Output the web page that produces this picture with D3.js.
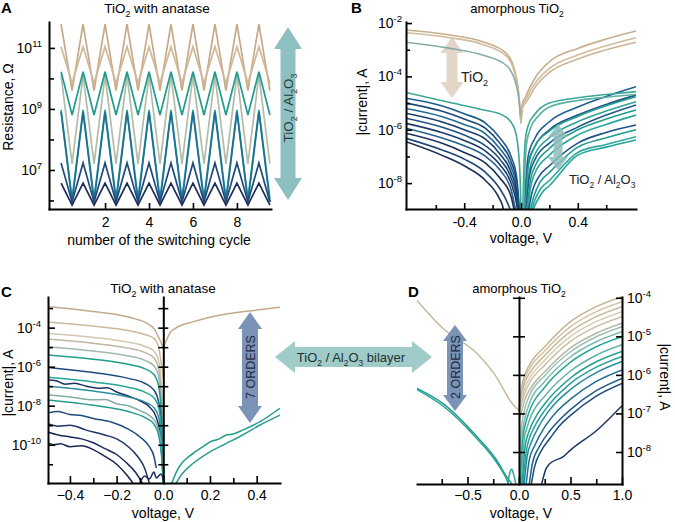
<!DOCTYPE html>
<html><head><meta charset="utf-8">
<script src="https://cdn.jsdelivr.net/npm/d3@7"></script>
<style>
body{margin:0;background:#fff;}
svg{display:block;}
</style></head><body>
<svg id="fig" width="675" height="522"></svg>
<script>
// ================= DATA =================
// Panel A: log10(resistance / Ohm) vs switching cycle
const cycleX = [0,0.5,1,1.5,2,2.5,3,3.5,4,4.5,5,5.5,6,6.5,7,7.5,8,8.5,9,9.5];
const logR_tan1  = [11.78,9.60,11.78,9.60,11.78,9.60,11.78,9.60,11.78,9.60,11.78,9.60,11.78,9.60,11.78,9.60,11.78,9.60,11.78,9.60];
const logR_tan2  = [11.04,9.85,11.04,9.85,11.04,9.85,11.04,9.85,11.04,9.85,11.04,9.85,11.04,9.85,11.04,9.85,11.04,9.85,11.04,9.85];
const logR_teal1 = [10.22,8.80,10.22,8.80,10.22,8.80,10.22,8.80,10.22,8.80,10.22,8.80,10.22,8.80,10.22,8.80,10.22,8.80,10.22,8.80];
const logR_grey  = [10.10,7.20,10.10,7.20,10.10,7.20,10.10,7.20,10.10,7.20,10.10,7.20,10.10,7.20,10.10,7.20,10.10,7.20,10.10,7.20];
const logR_teal2 = [8.97,6.05,8.97,6.05,8.97,6.05,8.97,6.05,8.97,6.05,8.97,6.05,8.97,6.05,8.97,6.05,8.97,6.05,8.97,6.05];
const logR_blue1 = [8.90,5.95,8.90,5.95,8.90,5.95,8.90,5.95,8.90,5.95,8.90,5.95,8.90,5.95,8.90,5.95,8.90,5.95,8.90,5.95];
const logR_blue2 = [7.23,5.95,7.23,5.95,7.23,5.95,7.23,5.95,7.23,5.95,7.23,5.95,7.23,5.95,7.23,5.95,7.23,5.95,7.23,5.95];
const logR_navy  = [6.57,5.85,6.57,5.85,6.57,5.85,6.57,5.85,6.57,5.85,6.57,5.85,6.57,5.85,6.57,5.85,6.57,5.85,6.57,5.85];
const seriesA = [logR_grey, logR_tan1, logR_tan2, logR_teal1, logR_teal2, logR_blue1, logR_blue2, logR_navy];
const colorsA = ["#b3bca9","#c6aa88","#cfb999","#1f9c8b","#2ba39b","#1e6f95","#1f4a7b","#1b2c58"];
const yMajorA = [7,9,11], yMinorA = [6,8,10], xTicksA = [2,4,6,8];

// Panel B: [voltage V, log10 |current| A]
const ivB_tan = [
 [[-0.81,-2.26],[-0.5,-2.45],[-0.27,-2.7],[-0.1,-3.15],[-0.03,-4.1],[-0.01,-5.0],[0,-5.75]],
 [[-0.81,-2.36],[-0.5,-2.55],[-0.27,-2.8],[-0.1,-3.25],[-0.03,-4.2],[-0.01,-5.05],[0,-5.75]],
 [[0,-5.75],[0.01,-5.0],[0.03,-4.8],[0.05,-4.55],[0.1,-4.05],[0.2,-3.45],[0.4,-2.95],[0.6,-2.6],[0.81,-2.3]],
 [[0,-5.75],[0.01,-5.1],[0.03,-4.9],[0.05,-4.7],[0.1,-4.25],[0.2,-3.7],[0.4,-3.2],[0.6,-2.85],[0.81,-2.55]],
 [[0,-5.75],[0.01,-5.2],[0.03,-5.0],[0.05,-4.85],[0.1,-4.4],[0.2,-3.85],[0.4,-3.35],[0.6,-3.0],[0.81,-2.72]]
];
const ivB_greyTeal = [[-0.81,-2.72],[-0.5,-2.95],[-0.27,-3.2],[-0.1,-3.6],[-0.03,-4.4],[-0.01,-5.1],[0,-5.75]];
const ivB_tealTop = [
 [[-0.81,-4.6],[-0.5,-4.98],[-0.27,-5.25],[-0.13,-5.45],[-0.05,-5.9],[-0.02,-6.7],[-0.005,-8.0],[0,-9.1]],
 [[0.012,-9.1],[0.02,-7.5],[0.03,-6.4],[0.05,-5.85],[0.1,-5.4],[0.2,-5.0],[0.4,-4.8],[0.6,-4.68],[0.81,-4.57]],
 [[0.018,-9.1],[0.028,-7.4],[0.04,-6.5],[0.07,-5.9],[0.12,-5.5],[0.2,-5.15],[0.4,-4.9],[0.6,-4.78],[0.81,-4.68]]
];
const ivB_leftBlue = [
 [[-0.81,-4.82],[-0.56,-5.1],[-0.4,-5.4],[-0.25,-5.75],[-0.15,-6.3],[-0.07,-7.0],[-0.03,-7.8],[-0.01,-9.1]],
 [[-0.81,-5.0],[-0.56,-5.3],[-0.4,-5.6],[-0.25,-5.95],[-0.15,-6.5],[-0.07,-7.2],[-0.03,-8.0],[-0.012,-9.1]],
 [[-0.81,-5.2],[-0.56,-5.5],[-0.4,-5.8],[-0.25,-6.15],[-0.15,-6.7],[-0.07,-7.4],[-0.03,-8.2],[-0.014,-9.1]],
 [[-0.81,-5.38],[-0.56,-5.7],[-0.4,-6.0],[-0.25,-6.35],[-0.15,-6.9],[-0.07,-7.6],[-0.03,-8.4],[-0.016,-9.1]],
 [[-0.81,-5.57],[-0.56,-5.9],[-0.4,-6.2],[-0.25,-6.6],[-0.15,-7.1],[-0.07,-7.8],[-0.03,-8.6],[-0.02,-9.1]],
 [[-0.81,-5.76],[-0.56,-6.1],[-0.4,-6.4],[-0.25,-6.8],[-0.15,-7.3],[-0.07,-8.0],[-0.03,-8.8],[-0.022,-9.1]],
 [[-0.81,-5.94],[-0.56,-6.3],[-0.4,-6.6],[-0.25,-7.0],[-0.15,-7.5],[-0.07,-8.25],[-0.035,-9.1]],
 [[-0.81,-6.13],[-0.56,-6.5],[-0.4,-6.85],[-0.25,-7.25],[-0.15,-7.8],[-0.07,-8.5],[-0.045,-9.1]],
 [[-0.81,-6.32],[-0.56,-6.75],[-0.4,-7.1],[-0.25,-7.6],[-0.15,-8.2],[-0.09,-8.8],[-0.07,-9.1]],
 [[-0.81,-6.45],[-0.56,-6.95],[-0.4,-7.35],[-0.25,-7.9],[-0.15,-8.6],[-0.13,-8.85],[-0.12,-9.1]]
];
const colorsB_leftBlue = ["#1d5c8c","#1b4675","#1e6a93","#1b3d6c","#204f82","#1c3a68","#22618f","#1b2f5c","#1d4678","#1a2d57"];
const ivB_right = [
 [[0.02,-9.1],[0.05,-7.0],[0.1,-6.3],[0.2,-5.7],[0.4,-5.15],[0.6,-4.75],[0.81,-4.39]],
 [[0.025,-9.1],[0.05,-7.3],[0.1,-6.6],[0.2,-6.0],[0.4,-5.45],[0.6,-5.05],[0.81,-4.70]],
 [[0.03,-9.1],[0.05,-7.4],[0.1,-6.6],[0.2,-6.05],[0.4,-5.5],[0.6,-5.1],[0.81,-4.76]],
 [[0.03,-9.1],[0.06,-7.5],[0.1,-6.9],[0.2,-6.3],[0.4,-5.7],[0.6,-5.3],[0.81,-4.95]],
 [[0.035,-9.1],[0.06,-7.7],[0.1,-7.1],[0.2,-6.5],[0.4,-5.9],[0.6,-5.45],[0.81,-5.07]],
 [[0.04,-9.1],[0.07,-7.8],[0.1,-7.35],[0.2,-6.7],[0.4,-6.0],[0.6,-5.6],[0.81,-5.26]],
 [[0.045,-9.1],[0.07,-8.1],[0.1,-7.6],[0.2,-6.95],[0.4,-6.2],[0.6,-5.8],[0.81,-5.45]],
 [[0.05,-9.1],[0.08,-8.3],[0.12,-7.8],[0.2,-7.35],[0.4,-6.5],[0.6,-6.1],[0.81,-5.82]],
 [[0.06,-9.1],[0.09,-8.5],[0.13,-8.0],[0.2,-7.6],[0.4,-6.65],[0.6,-6.3],[0.81,-6.0]],
 [[0.07,-9.1],[0.1,-8.6],[0.14,-8.2],[0.2,-7.9],[0.4,-6.85],[0.6,-6.55],[0.81,-6.26]],
 [[0.075,-9.1],[0.11,-8.7],[0.15,-8.35],[0.2,-8.1],[0.4,-6.95],[0.6,-6.65],[0.81,-6.38]]
];
const colorsB_right = ["#1d5f90","#1b4f80","#25a190","#2ba59b","#1e5a8a","#1f9c8c","#2aa79d","#1d5488","#219c8d","#2fa89c","#26a597"];
const yMajorB = [-2,-4,-6,-8], yMinorB = [-3,-5,-7], xMajorB = [-0.4,0,0.4], xMinorB = [-0.6,-0.2,0.2,0.6];

// Panel C: [voltage V, log10 |current| A]
const ivC_left = [
 [[-0.5,-2.92],[-0.4,-3.03],[-0.3,-3.17],[-0.2,-3.33],[-0.12,-3.55],[-0.06,-3.85],[-0.04,-4.05],[-0.02,-4.5],[0,-5.0]],
 [[-0.5,-3.7],[-0.3,-3.92],[-0.15,-4.15],[-0.08,-4.35],[-0.04,-4.55],[-0.02,-5.0],[-0.008,-5.9],[0,-6.6]],
 [[-0.5,-4.29],[-0.3,-4.5],[-0.15,-4.75],[-0.08,-4.95],[-0.04,-5.2],[-0.02,-5.7],[-0.008,-7.0],[-0.002,-9],[0,-11.96]],
 [[-0.5,-4.58],[-0.3,-4.8],[-0.15,-5.05],[-0.08,-5.27],[-0.04,-5.55],[-0.02,-6.1],[-0.008,-7.5],[0,-11.96]],
 [[-0.5,-4.97],[-0.3,-5.2],[-0.15,-5.45],[-0.08,-5.67],[-0.04,-5.95],[-0.02,-6.5],[-0.008,-8.0],[0,-11.96]],
 [[-0.5,-5.4],[-0.3,-5.62],[-0.15,-5.88],[-0.08,-6.1],[-0.04,-6.4],[-0.02,-7.0],[-0.008,-8.5],[0,-11.96]],
 [[-0.5,-6.03],[-0.3,-6.3],[-0.15,-6.6],[-0.08,-6.85],[-0.04,-7.2],[-0.02,-7.8],[-0.008,-9.0],[0,-11.96]],
 [[-0.5,-6.54],[-0.3,-6.78],[-0.15,-7.05],[-0.08,-7.3],[-0.04,-7.6],[-0.02,-8.1],[-0.008,-9.3],[0,-11.96]],
 [[-0.5,-6.68],[-0.46,-6.72],[-0.42,-6.9],[-0.38,-6.85],[-0.33,-7.0],[-0.28,-7.1],[-0.24,-7.08],[-0.2,-7.3],[-0.15,-7.5],[-0.1,-7.75],[-0.06,-8.05],[-0.03,-8.6],[-0.012,-9.6],[0,-11.96]],
 [[-0.5,-7.0],[-0.3,-7.25],[-0.15,-7.55],[-0.08,-7.8],[-0.04,-8.1],[-0.02,-8.6],[-0.008,-9.7],[0,-11.96]],
 [[-0.5,-7.45],[-0.4,-7.55],[-0.3,-7.7],[-0.25,-7.68],[-0.2,-7.9],[-0.15,-8.0],[-0.1,-8.25],[-0.06,-8.5],[-0.03,-8.9],[-0.012,-9.8],[0,-11.96]],
 [[-0.5,-7.7],[-0.3,-7.98],[-0.15,-8.3],[-0.08,-8.6],[-0.04,-8.95],[-0.02,-9.5],[-0.008,-10.5],[0,-11.96]],
 [[-0.5,-8.39],[-0.45,-8.3],[-0.4,-8.45],[-0.35,-8.5],[-0.3,-8.65],[-0.22,-8.85],[-0.15,-9.2],[-0.1,-9.6],[-0.06,-10.1],[-0.04,-10.6],[-0.03,-11.2]],
 [[-0.5,-8.9],[-0.45,-9.05],[-0.4,-9.0],[-0.33,-9.25],[-0.25,-9.5],[-0.2,-9.7],[-0.15,-10.1],[-0.11,-10.6],[-0.08,-11.2],[-0.06,-11.96]],
 [[-0.5,-9.33],[-0.45,-9.5],[-0.4,-9.6],[-0.35,-9.7],[-0.3,-9.9],[-0.25,-10.2],[-0.2,-10.5],[-0.16,-10.9],[-0.12,-11.4],[-0.09,-11.96]],
 [[-0.5,-9.85],[-0.47,-10.0],[-0.44,-9.95],[-0.4,-10.1],[-0.35,-10.05],[-0.3,-10.25],[-0.25,-10.6],[-0.2,-11.0],[-0.16,-11.5],[-0.13,-11.96]],
 [[-0.1,-11.96],[-0.08,-11.6],[-0.06,-11.75],[-0.04,-11.4],[-0.03,-11.7],[-0.01,-11.5],[0,-11.8]]
];
const colorsC_left = ["#c4aa8a","#cdb99c","#d5c7af","#bdb6a2","#9dbab0","#1f9d8b","#1d4c7e","#28a597","#1c2f5e","#2a8f9e","#86aca4","#239d90","#1f4a7c","#1b3566","#1b2a58","#1a2550","#1c2f5e"];
const ivC_right = [
 [[0,-5.0],[0.015,-4.6],[0.03,-4.25],[0.05,-4.05],[0.13,-3.69],[0.27,-3.3],[0.4,-3.1],[0.5,-2.95]],
 [[0.036,-11.96],[0.06,-11.3],[0.128,-10.44],[0.17,-10.1],[0.2,-9.85],[0.24,-9.7],[0.27,-9.5],[0.3,-9.45],[0.34,-9.25],[0.414,-8.82],[0.5,-8.13]],
 [[0.055,-11.96],[0.08,-11.5],[0.128,-10.95],[0.2,-10.36],[0.27,-9.93],[0.34,-9.5],[0.414,-8.99],[0.5,-8.48]]
];
const colorsC_right = ["#c4aa8a","#1f9c8a","#2a9d8f"];
const yMajorC = [-4,-6,-8,-10], yMinorC = [-3,-5,-7,-9,-11], yAllC = [-3,-4,-5,-6,-7,-8,-9,-10,-11];
const xMajorC = [-0.4,-0.2,0,0.2,0.4], xMinorC = [-0.3,-0.1,0.1,0.3];

// Panel D: [voltage V, log10 |current| A]
const ivD_left = [
 [[-0.99,-4.07],[-0.74,-4.79],[-0.41,-5.44],[-0.22,-6.05],[-0.09,-6.65],[-0.03,-6.85],[0,-6.92]],
 [[-0.99,-6.35],[-0.74,-6.74],[-0.41,-7.6],[-0.22,-8.2],[-0.12,-8.64],[-0.07,-8.83]],
 [[-0.99,-6.38],[-0.74,-6.8],[-0.41,-7.65],[-0.22,-8.26],[-0.14,-8.6],[-0.1,-8.83]],
 [[-0.11,-8.83],[-0.09,-8.55],[-0.07,-8.45],[-0.05,-8.6],[-0.03,-8.83]]
];
const colorsD_left = ["#cbb99d","#1f9c8b","#2aa596","#2aa596"];
const ivD_right = [
 [[0,-6.92],[0.02,-6.4],[0.05,-6.05],[0.1,-5.75],[0.25,-5.27],[0.5,-4.62],[0.75,-4.23],[1.0,-3.97]],
 [[0,-6.92],[0.02,-6.5],[0.05,-6.15],[0.1,-5.85],[0.25,-5.38],[0.5,-4.75],[0.75,-4.36],[1.0,-4.10]],
 [[0,-6.92],[0.02,-6.6],[0.05,-6.25],[0.1,-5.97],[0.25,-5.5],[0.5,-4.88],[0.75,-4.49],[1.0,-4.23]],
 [[0,-6.92],[0.03,-6.6],[0.05,-6.38],[0.1,-6.1],[0.25,-5.62],[0.5,-5.0],[0.75,-4.62],[1.0,-4.36]],
 [[0,-6.95],[0.03,-6.7],[0.06,-6.45],[0.1,-6.22],[0.25,-5.75],[0.5,-5.13],[0.75,-4.75],[1.0,-4.49]],
 [[0,-7.2],[0.03,-6.9],[0.06,-6.62],[0.1,-6.4],[0.25,-5.92],[0.5,-5.3],[0.75,-4.92],[1.0,-4.66]],
 [[0.005,-8.83],[0.02,-7.5],[0.05,-6.95],[0.1,-6.55],[0.25,-6.02],[0.5,-5.4],[0.75,-5.01],[1.0,-4.75]],
 [[0.01,-8.83],[0.03,-7.6],[0.06,-7.1],[0.1,-6.75],[0.25,-6.17],[0.5,-5.53],[0.75,-5.14],[1.0,-4.88]],
 [[0.015,-8.83],[0.04,-7.6],[0.07,-7.2],[0.1,-6.95],[0.25,-6.32],[0.5,-5.67],[0.75,-5.27],[1.0,-5.01]],
 [[0.02,-8.83],[0.05,-7.7],[0.08,-7.35],[0.12,-7.05],[0.25,-6.55],[0.5,-5.9],[0.75,-5.49],[1.0,-5.22]],
 [[0.03,-8.83],[0.06,-7.85],[0.1,-7.45],[0.15,-7.15],[0.25,-6.75],[0.5,-6.08],[0.75,-5.66],[1.0,-5.39]],
 [[0.04,-8.83],[0.07,-8.0],[0.1,-7.65],[0.15,-7.35],[0.25,-6.92],[0.5,-6.22],[0.75,-5.8],[1.0,-5.52]],
 [[0.05,-8.83],[0.08,-8.1],[0.12,-7.75],[0.2,-7.3],[0.3,-6.9],[0.5,-6.38],[0.75,-5.94],[1.0,-5.65]],
 [[0.07,-8.83],[0.1,-8.2],[0.15,-7.85],[0.25,-7.35],[0.35,-7.0],[0.5,-6.63],[0.75,-6.17],[1.0,-5.87]],
 [[0.1,-8.83],[0.13,-8.3],[0.2,-7.85],[0.3,-7.45],[0.4,-7.15],[0.5,-6.9],[0.75,-6.41],[1.0,-6.09]],
 [[0.12,-8.83],[0.15,-8.4],[0.22,-7.95],[0.3,-7.65],[0.4,-7.3],[0.5,-7.05],[0.75,-6.55],[1.0,-6.22]],
 [[0.22,-8.83],[0.26,-8.45],[0.3,-8.3],[0.43,-8.12],[0.5,-7.95],[0.76,-7.43],[1.0,-6.8]]
];
const colorsD_right = ["#c8b190","#d3c2a6","#c9b898","#d8cbb4","#cbbfa6","#b4b8a5","#9cc0b6","#7dbab0","#2aa69a","#5db3a8","#1f9e8c","#2b9fa0","#1f8a9a","#1e6f93","#1d5a8a","#1d4a7c","#1b3563"];
const yDecD = [-4,-5,-6,-7,-8], xMajorD = [-0.5,0,0.5,1.0], xMinorD = [-0.75,-0.25,0.25,0.75];

// ================= DRAWING =================
const FF = '"Liberation Sans", Arial, Helvetica, sans-serif';
const svg = d3.select("#fig").attr("font-family", FF);
const defs = svg.append("defs");

function rich(t, s, fs) {
  const parts = s.split(/_(\d)/);
  let down = false;
  parts.forEach((p, i) => {
    if (!p) return;
    const ts = t.append("tspan").text(p);
    if (i % 2 === 1) { ts.attr("font-size", fs * 0.65).attr("dy", fs * 0.28); down = true; }
    else if (down) { ts.attr("dy", -fs * 0.28); down = false; }
  });
  return t;
}
function label(x, y, s, fs, o = {}) {
  const t = svg.append("text").attr("font-size", fs)
    .attr("text-anchor", o.anchor || "start").attr("fill", o.fill || "#000");
  if (o.weight) t.attr("font-weight", o.weight);
  if (o.rotate != null) t.attr("transform", `translate(${x},${y}) rotate(${o.rotate})`);
  else t.attr("x", x).attr("y", y);
  return rich(t, s, fs);
}
function clipRect(id, x0, y0, x1, y1) {
  defs.append("clipPath").attr("id", id).append("rect")
    .attr("x", x0).attr("y", y0).attr("width", x1 - x0).attr("height", y1 - y0);
}
function styleAxis(g, fs) {
  g.attr("font-family", FF).attr("font-size", fs);
  g.select(".domain").attr("stroke-width", 2).attr("stroke-linecap", "square");
  g.selectAll(".tick line").attr("stroke-width", 1.6);
  return g;
}
function noDomain(g) { g.select(".domain").remove(); g.selectAll(".tick line").attr("stroke-width", 1.6); return g; }
function powText(g) {
  g.selectAll(".tick text").each(function (d) {
    const t = d3.select(this); t.text(null);
    t.append("tspan").text("10");
    t.append("tspan").attr("dy", -6).attr("font-size", 9.5).text(String(d));
  });
}
function vArrow(cx, y1, y2, hl, hw, sw, fill, op) {
  const p = [[cx,y1],[cx+hw,y1+hl],[cx+sw,y1+hl],[cx+sw,y2-hl],[cx+hw,y2-hl],[cx,y2],[cx-hw,y2-hl],[cx-sw,y2-hl],[cx-sw,y1+hl],[cx-hw,y1+hl]];
  svg.append("polygon").attr("points", p.join(" ")).attr("fill", fill).attr("opacity", op || 1);
}
function hArrow(x1, x2, cy, hl, hh, sh, fill) {
  const p = [[x1,cy],[x1+hl,cy-hh],[x1+hl,cy-sh],[x2-hl,cy-sh],[x2-hl,cy-hh],[x2,cy],[x2-hl,cy+hh],[x2-hl,cy+sh],[x1+hl,cy+sh],[x1+hl,cy+hh]];
  svg.append("polygon").attr("points", p.join(" ")).attr("fill", fill);
}
function curves(clipId, data, colors, x, y, curve, w) {
  svg.append("g").attr("clip-path", `url(#${clipId})`)
    .selectAll("path").data(data).join("path")
    .attr("d", d3.line().x(d => x(d[0])).y(d => y(d[1])).curve(curve))
    .attr("fill", "none").attr("stroke", (d, i) => colors[i])
    .attr("stroke-width", w).attr("stroke-linejoin", "round");
}

// ---------- Panel A ----------
const xA = d3.scaleLinear().domain([-0.55, 9.55]).range([49, 271]);
const yA = d3.scaleLinear().domain([5.72, 11.85]).range([209, 22]);
clipRect("clipA", 49, 20, 272, 209);
const lineA = d3.line().x((d, i) => xA(cycleX[i])).y(d => yA(d));
svg.append("g").attr("clip-path", "url(#clipA)")
  .selectAll("path").data(seriesA).join("path")
  .attr("d", lineA).attr("fill", "none").attr("stroke", (d, i) => colorsA[i])
  .attr("stroke-width", 1.7).attr("stroke-linejoin", "miter");

let g = svg.append("g").attr("transform", "translate(49,0)")
  .call(d3.axisLeft(yA).tickValues(yMajorA).tickSize(-6).tickSizeOuter(0).tickPadding(7).tickFormat(""));
styleAxis(g, 14); powText(g);
noDomain(svg.append("g").attr("transform", "translate(49,0)")
  .call(d3.axisLeft(yA).tickValues(yMinorA).tickSize(-5).tickFormat("")));
g = svg.append("g").attr("transform", "translate(0,209)")
  .call(d3.axisBottom(xA).tickValues(xTicksA).tickSize(-6).tickSizeOuter(0).tickPadding(8).tickFormat(d3.format("d")));
styleAxis(g, 14);

vArrow(288, 27, 200, 22, 14, 7.5, "#8ec0c1");
label(293, 108, "TiO_2 / Al_2O_3", 13.5, { anchor: "middle", rotate: -90, fill: "#27393a" });
label(13, 107, "Resistance, Ω", 14, { anchor: "middle", rotate: -90 });
label(159, 245, "number of the switching cycle", 14, { anchor: "middle" });
label(157, 13, "TiO_2 with anatase", 13.5, { anchor: "middle" });
label(1, 13, "A", 15, { weight: "bold" });

// ---------- Panel B ----------
const xB = d3.scaleLinear().domain([-0.81, 0.81]).range([406, 636]);
const yB = d3.scaleLinear().domain([-8.97, -1.96]).range([209, 22]);
clipRect("clipB", 406, 20, 640, 209);
vArrow(452, 37, 98, 16, 11.5, 5.5, "#e3d6c8");
curves("clipB", ivB_tan.slice(0, 2), ["#c8ae8e", "#d0bb9c"], xB, yB, d3.curveMonotoneX, 1.6);
curves("clipB", [ivB_greyTeal], ["#86aca7"], xB, yB, d3.curveMonotoneX, 1.6);
curves("clipB", ivB_tan.slice(2), ["#c8ae8e", "#d0bb9c", "#cbb596"], xB, yB, d3.curveMonotoneX, 1.6);
curves("clipB", ivB_leftBlue, colorsB_leftBlue, xB, yB, d3.curveMonotoneX, 1.6);
curves("clipB", ivB_right, colorsB_right, xB, yB, d3.curveMonotoneX, 1.6);
curves("clipB", ivB_tealTop, ["#3aa896", "#3aa896", "#5ab1a3"], xB, yB, d3.curveMonotoneX, 1.6);

g = svg.append("g").attr("transform", "translate(406,0)")
  .call(d3.axisLeft(yB).tickValues(yMajorB).tickSize(-6).tickSizeOuter(0).tickPadding(4).tickFormat(""));
styleAxis(g, 14); powText(g);
noDomain(svg.append("g").attr("transform", "translate(406,0)")
  .call(d3.axisLeft(yB).tickValues(yMinorB).tickSize(-4).tickFormat("")));
g = svg.append("g").attr("transform", "translate(0,209)")
  .call(d3.axisBottom(xB).tickValues(xMajorB).tickSize(-6).tickSizeOuter(0).tickPadding(8).tickFormat(d => d.toFixed(1)));
styleAxis(g, 14);
noDomain(svg.append("g").attr("transform", "translate(0,209)")
  .call(d3.axisBottom(xB).tickValues(xMinorB).tickSize(-4).tickFormat("")));

vArrow(558, 124, 170, 13, 10, 4.5, "#8fbcbc", 0.85);
label(461, 82, "TiO_2", 14, { fill: "#222" });
label(569, 184, "TiO_2 / Al_2O_3", 13, { fill: "#222" });
label(367, 102, "|current|, A", 14, { anchor: "middle", rotate: -90 });
label(521, 243, "voltage, V", 14, { anchor: "middle" });
label(517, 13, "amorphous TiO_2", 13, { anchor: "middle" });
label(351, 13, "B", 15, { weight: "bold" });

// ---------- Panel C ----------
const xC = d3.scaleLinear().domain([-0.494, 0.5]).range([48, 280]);
const yC = d3.scaleLinear().domain([-11.96, -2.43]).range([483, 297]);
clipRect("clipC", 48, 296, 282, 483);
curves("clipC", ivC_left, colorsC_left, xC, yC, d3.curveMonotoneX, 1.5);
curves("clipC", ivC_right, colorsC_right, xC, yC, d3.curveMonotoneX, 1.5);

g = svg.append("g").attr("transform", "translate(48,0)")
  .call(d3.axisLeft(yC).tickValues(yMajorC).tickSize(-7).tickSizeOuter(0).tickPadding(7).tickFormat(""));
styleAxis(g, 14); powText(g);
noDomain(svg.append("g").attr("transform", "translate(48,0)")
  .call(d3.axisLeft(yC).tickValues(yMinorC).tickSize(-5).tickFormat("")));
g = svg.append("g").attr("transform", `translate(${xC(0)},0)`)
  .call(d3.axisLeft(yC).tickValues(yAllC).tickSize(5).tickSizeOuter(0).tickFormat(""));
styleAxis(g, 14);
noDomain(svg.append("g").attr("transform", `translate(${xC(0)},0)`)
  .call(d3.axisRight(yC).tickValues(yAllC).tickSize(5).tickFormat("")));
g = svg.append("g").attr("transform", "translate(0,483)")
  .call(d3.axisBottom(xC).tickValues(xMajorC).tickSize(-7).tickSizeOuter(0).tickPadding(7).tickFormat(d3.format(".1f")));
styleAxis(g, 14);
noDomain(svg.append("g").attr("transform", "translate(0,483)")
  .call(d3.axisBottom(xC).tickValues(xMinorC).tickSize(-5).tickFormat("")));

vArrow(250, 312, 423, 17, 12, 8, "#7a93b7");
label(254.5, 367, "7 ORDERS", 12.5, { anchor: "middle", rotate: -90, fill: "#1d2b40" });
label(13, 383, "|current|, A", 14, { anchor: "middle", rotate: -90 });
label(163, 518, "voltage, V", 14, { anchor: "middle" });
label(163, 293, "TiO_2 with anatase", 13.5, { anchor: "middle" });
label(1, 297, "C", 15, { weight: "bold" });

// ---------- Panel D ----------
const xD = d3.scaleLinear().domain([-0.99, 1]).range([417, 622]);
const yD = d3.scaleLinear().domain([-8.83, -3.98]).range([484, 297]);
clipRect("clipD", 410, 290, 622, 484);
curves("clipD", ivD_left, colorsD_left, xD, yD, d3.curveMonotoneX, 1.5);
curves("clipD", ivD_right, colorsD_right, xD, yD, d3.curveMonotoneX, 1.5);

g = svg.append("g").attr("transform", "translate(622,0)")
  .call(d3.axisRight(yD).tickValues(yDecD).tickSize(-6).tickSizeOuter(0).tickPadding(5).tickFormat(""));
styleAxis(g, 14); powText(g);
g = svg.append("g").attr("transform", `translate(${xD(0)},0)`)
  .call(d3.axisLeft(yD).tickValues(yDecD).tickSize(6).tickSizeOuter(0).tickFormat(""));
styleAxis(g, 14);
noDomain(svg.append("g").attr("transform", `translate(${xD(0)},0)`)
  .call(d3.axisRight(yD).tickValues(yDecD).tickSize(6).tickFormat("")));
g = svg.append("g").attr("transform", "translate(0,484)")
  .call(d3.axisBottom(xD).tickValues(xMajorD).tickSize(-7).tickSizeOuter(0).tickPadding(6).tickFormat(d3.format(".1f")));
styleAxis(g, 14);
noDomain(svg.append("g").attr("transform", "translate(0,484)")
  .call(d3.axisBottom(xD).tickValues(xMinorD).tickSize(-5).tickFormat("")));

vArrow(455, 325, 411, 16, 12, 8, "#7a93b7");
label(459.5, 367, "2 ORDERS", 12.5, { anchor: "middle", rotate: -90, fill: "#1d2b40" });
label(660, 377, "|current|, A", 14, { anchor: "middle", rotate: 90 });
label(521, 518, "voltage, V", 14, { anchor: "middle" });
label(519, 293, "amorphous TiO_2", 13, { anchor: "middle" });
label(408, 297, "D", 15, { weight: "bold" });

// ---------- Bilayer arrow between C and D ----------
hArrow(275, 432, 357, 20, 16, 10, "#9fcbc8");
label(351, 362, "TiO_2 / Al_2O_3 bilayer", 13, { anchor: "middle", fill: "#1f2f30" });
</script>
</body></html>
